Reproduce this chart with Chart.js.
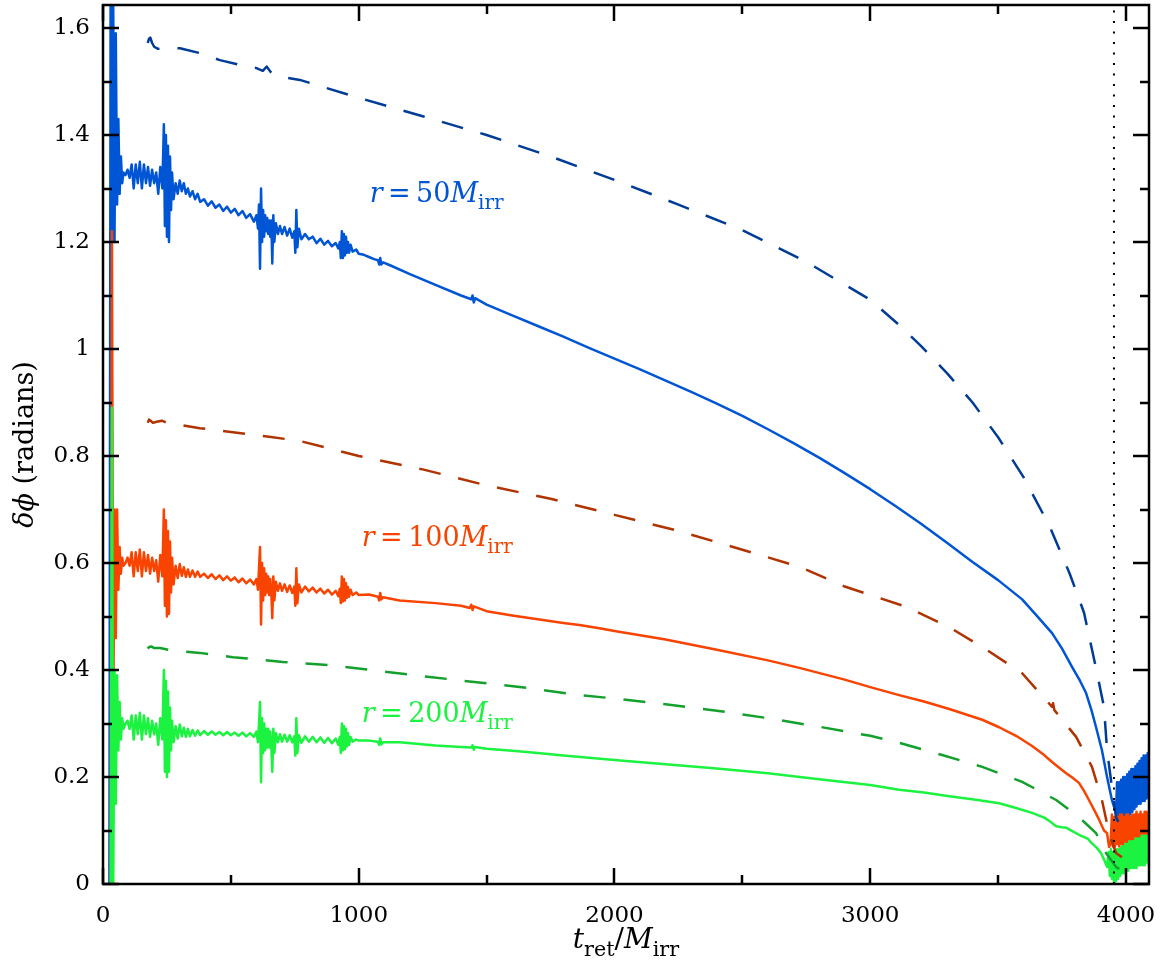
<!DOCTYPE html>
<html><head><meta charset="utf-8">
<script src="https://cdn.jsdelivr.net/npm/chart.js@4.4.1/dist/chart.umd.min.js"></script>
<style>html,body{margin:0;padding:0;background:#fff;}#wrap{width:1170px;height:966px;}</style>
</head><body><div id="wrap"><canvas id="c" width="1170" height="966"></canvas></div>
<script>
// ---------- data ----------
const xTickLabels = [0, 1000, 2000, 3000, 4000];
const yTickLabels = [0, 0.2, 0.4, 0.6, 0.8, 1, 1.2, 1.4, 1.6];
const seriesLabels = ['r = 50M_irr', 'r = 100M_irr', 'r = 200M_irr'];
const mergerTime = 3953;

// r = 50 M_irr, solid
const blueSolid = [[25,0.0],[30,1.75],[35,1.20],[40,1.64],[45,1.20],[50,1.59],[55,1.27],[60,1.43],[65,1.29],[70,1.36],[75,1.31],[80,1.33],
[88,1.325],[96,1.335],[104,1.32],[112,1.345],[120,1.30],[128,1.345],[136,1.31],[144,1.35],[152,1.30],[160,1.345],[168,1.31],[176,1.34],[184,1.305],[192,1.335],[200,1.31],[208,1.33],[216,1.29],[224,1.34],[232,1.30],
[238,1.42],[242,1.23],[246,1.40],[250,1.21],[254,1.38],[258,1.20],[262,1.36],[266,1.26],[270,1.33],[276,1.28],[284,1.31],[292,1.29],[300,1.315],[308,1.295],[316,1.31],[324,1.29],[332,1.30],[340,1.285],[350,1.295],[360,1.28],[370,1.29],[380,1.275],[395,1.28],[410,1.268],[425,1.276],[440,1.264],[455,1.27],[470,1.258],[485,1.266],[500,1.255],[515,1.262],[530,1.25],[545,1.258],[560,1.245],[575,1.252],[590,1.238],[600,1.25],
[606,1.225],[610,1.27],[614,1.15],[618,1.30],[622,1.20],[626,1.26],[630,1.21],[634,1.25],[638,1.22],[642,1.245],[646,1.215],[650,1.24],[654,1.21],[658,1.24],[662,1.16],[666,1.25],[670,1.20],[676,1.235],[684,1.215],[692,1.23],[700,1.215],[710,1.228],[720,1.212],[730,1.225],[740,1.208],[748,1.22],[752,1.18],[756,1.26],[760,1.19],[766,1.225],[776,1.205],[790,1.215],[805,1.205],[820,1.21],[835,1.198],[850,1.206],[865,1.195],[880,1.202],[895,1.192],[910,1.198],[920,1.188],[926,1.20],[930,1.17],[934,1.22],[938,1.17],[942,1.215],[946,1.175],[950,1.21],[954,1.18],[958,1.20],[962,1.18],[968,1.195],[976,1.182],[990,1.186],[1000,1.178],[1020,1.176],[1040,1.172],[1060,1.168],[1075,1.166],[1080,1.158],[1084,1.17],[1088,1.158],[1095,1.162],[1120,1.157],
[1200,1.14],[1300,1.12],[1400,1.10],[1440,1.093],[1445,1.10],[1450,1.087],[1455,1.095],[1500,1.083],[1600,1.063],[1700,1.043],[1800,1.023],[1900,1.002],[2000,0.982],[2100,0.962],[2200,0.941],[2300,0.92],[2400,0.898],[2500,0.875],[2600,0.85],[2700,0.824],[2800,0.797],[2900,0.768],[3000,0.738],[3100,0.706],[3200,0.673],[3300,0.638],[3400,0.602],[3500,0.568],[3594,0.532],[3650,0.502],[3711,0.469],[3750,0.44],[3789,0.406],[3820,0.38],[3844,0.357],[3865,0.325],[3883,0.293],[3906,0.250],[3926,0.200],[3945,0.157],[3961,0.133],
[3965,0.19],[3969,0.10],[3973,0.19],[3977,0.105],[3981,0.195],[3985,0.11],[3989,0.20],[3993,0.115],[3997,0.20],[4001,0.12],[4005,0.205],[4009,0.125],[4013,0.21],[4017,0.13],[4021,0.215],[4025,0.135],[4029,0.215],[4033,0.14],[4037,0.22],[4041,0.145],[4045,0.225],[4049,0.15],[4053,0.23],[4057,0.15],[4061,0.235],[4065,0.155],[4069,0.24],[4073,0.155],[4077,0.24],[4081,0.16],[4085,0.245],[4089,0.16]];

// r = 100 M_irr, solid
const redSolid = [[25,0.0],[30,0.0],[35,1.22],[40,0.30],[45,0.70],[50,0.46],[55,0.70],[60,0.55],[65,0.63],[70,0.58],[75,0.61],[80,0.595],
[88,0.60],[96,0.61],[104,0.595],[112,0.62],[120,0.575],[128,0.62],[136,0.585],[144,0.625],[152,0.575],[160,0.62],[168,0.585],[176,0.615],[184,0.58],[192,0.61],[200,0.585],[208,0.605],[216,0.565],[224,0.615],[232,0.575],
[238,0.70],[242,0.52],[246,0.68],[250,0.50],[254,0.66],[258,0.505],[262,0.64],[266,0.545],[270,0.61],[276,0.56],[284,0.595],[292,0.572],[300,0.598],[308,0.576],[316,0.592],[324,0.574],[332,0.588],[340,0.574],[350,0.586],[360,0.574],[370,0.584],[380,0.574],[395,0.58],[410,0.572],[425,0.579],[440,0.57],[455,0.577],[470,0.568],[485,0.575],[500,0.567],[515,0.573],[530,0.564],[545,0.571],[560,0.562],[575,0.569],[590,0.56],[600,0.57],
[606,0.55],[610,0.59],[614,0.63],[618,0.485],[622,0.60],[626,0.53],[630,0.59],[634,0.54],[638,0.58],[642,0.545],[646,0.575],[650,0.54],[654,0.57],[658,0.545],[662,0.497],[666,0.575],[670,0.53],[676,0.565],[684,0.548],[692,0.562],[700,0.548],[710,0.56],[720,0.546],[730,0.558],[740,0.544],[748,0.556],[752,0.52],[756,0.59],[760,0.525],[766,0.56],[776,0.545],[790,0.556],[805,0.547],[820,0.554],[835,0.545],[850,0.552],[865,0.543],[880,0.55],[895,0.541],[910,0.548],[920,0.538],[926,0.552],[930,0.525],[934,0.575],[938,0.528],[942,0.57],[946,0.53],[950,0.562],[954,0.535],[958,0.555],[962,0.537],[968,0.55],[976,0.54],[990,0.545],[1000,0.54],[1040,0.541],[1075,0.537],[1080,0.53],[1084,0.544],[1088,0.532],[1095,0.536],[1160,0.53],
[1300,0.525],[1400,0.52],[1434,0.516],[1440,0.522],[1445,0.512],[1450,0.519],[1500,0.51],[1600,0.502],[1700,0.495],[1800,0.488],[1863,0.484],[1941,0.478],[2000,0.473],[2200,0.457],[2400,0.438],[2600,0.418],[2723,0.404],[2900,0.382],[3000,0.368],[3113,0.353],[3210,0.341],[3309,0.327],[3438,0.307],[3504,0.293],[3570,0.277],[3633,0.258],[3680,0.241],[3711,0.228],[3740,0.217],[3766,0.207],[3790,0.199],[3816,0.189],[3836,0.174],[3855,0.157],[3875,0.139],[3895,0.120],[3914,0.10],[3926,0.095],[3934,0.069],
[3940,0.075],[3945,0.13],[3949,0.07],[3953,0.125],[3957,0.07],[3961,0.13],[3965,0.075],[3969,0.125],[3973,0.07],[3977,0.13],[3981,0.075],[3985,0.13],[3989,0.07],[3993,0.125],[3997,0.075],[4001,0.13],[4005,0.075],[4009,0.13],[4013,0.075],[4017,0.125],[4021,0.075],[4025,0.13],[4029,0.08],[4033,0.13],[4037,0.075],[4041,0.135],[4045,0.08],[4049,0.13],[4053,0.08],[4057,0.135],[4061,0.08],[4065,0.13],[4069,0.08],[4073,0.135],[4077,0.08],[4081,0.135],[4085,0.08],[4089,0.13]];

// r = 200 M_irr, solid
const greenSolid = [[25,0.0],[30,0.0],[35,0.89],[40,0.0],[45,0.40],[50,0.15],[55,0.39],[60,0.25],[65,0.34],[70,0.27],[75,0.31],[80,0.29],
[88,0.30],[96,0.305],[104,0.29],[112,0.315],[120,0.27],[128,0.315],[136,0.28],[144,0.32],[152,0.27],[160,0.315],[168,0.28],[176,0.31],[184,0.275],[192,0.305],[200,0.28],[208,0.30],[216,0.26],[224,0.31],[232,0.27],
[238,0.40],[242,0.21],[246,0.38],[250,0.20],[254,0.36],[258,0.21],[262,0.33],[266,0.25],[270,0.305],[276,0.265],[284,0.295],[292,0.272],[300,0.298],[308,0.276],[316,0.292],[324,0.275],[332,0.29],[340,0.276],[350,0.288],[360,0.277],[370,0.287],[380,0.278],[395,0.286],[410,0.279],[425,0.285],[440,0.279],[455,0.284],[470,0.278],[485,0.284],[500,0.278],[515,0.283],[530,0.277],[545,0.283],[560,0.276],[575,0.282],[590,0.275],[600,0.285],
[606,0.265],[610,0.30],[614,0.34],[618,0.19],[622,0.31],[626,0.245],[630,0.30],[634,0.25],[638,0.29],[642,0.255],[646,0.29],[650,0.255],[654,0.285],[658,0.26],[662,0.21],[666,0.29],[670,0.245],[676,0.282],[684,0.265],[692,0.28],[700,0.266],[710,0.279],[720,0.266],[730,0.278],[740,0.265],[748,0.276],[752,0.24],[756,0.31],[760,0.245],[766,0.278],[776,0.264],[790,0.276],[805,0.266],[820,0.275],[835,0.265],[850,0.274],[865,0.264],[880,0.273],[895,0.263],[910,0.272],[920,0.26],[926,0.275],[930,0.245],[934,0.30],[938,0.25],[942,0.295],[946,0.252],[950,0.29],[954,0.257],[958,0.282],[962,0.26],[968,0.275],[976,0.266],[990,0.27],[1000,0.268],[1040,0.268],[1075,0.266],[1080,0.26],[1084,0.272],[1088,0.261],[1095,0.265],[1160,0.265],
[1300,0.259],[1400,0.256],[1440,0.255],[1445,0.259],[1450,0.251],[1455,0.256],[1500,0.253],[1600,0.249],[1700,0.245],[1800,0.24],[2000,0.232],[2200,0.224],[2400,0.216],[2600,0.207],[2800,0.196],[3000,0.185],[3113,0.176],[3210,0.171],[3309,0.164],[3420,0.157],[3504,0.151],[3570,0.142],[3633,0.133],[3680,0.124],[3700,0.118],[3727,0.108],[3750,0.106],[3767,0.105],[3790,0.099],[3816,0.092],[3850,0.085],[3865,0.077],[3885,0.068],[3902,0.058],[3915,0.045],[3926,0.032],
[3932,0.06],[3937,0.015],[3941,0.065],[3945,0.01],[3949,0.06],[3953,0.0],[3957,0.06],[3961,0.005],[3965,0.065],[3969,0.01],[3973,0.065],[3977,0.015],[3981,0.07],[3985,0.02],[3989,0.07],[3993,0.02],[3997,0.075],[4001,0.025],[4005,0.075],[4009,0.025],[4013,0.08],[4017,0.03],[4021,0.08],[4025,0.03],[4029,0.08],[4033,0.03],[4037,0.085],[4041,0.03],[4045,0.085],[4049,0.035],[4053,0.085],[4057,0.035],[4061,0.09],[4065,0.035],[4069,0.09],[4073,0.035],[4077,0.09],[4081,0.04],[4085,0.09],[4089,0.035]];

// dashed curves
const blueDashed = [[175,1.572],[180,1.58],[185,1.582],[192,1.572],[200,1.565],[215,1.561],[240,1.563],[301,1.562],[379,1.553],[457,1.540],[535,1.531],[600,1.525],[625,1.52],[640,1.528],[655,1.518],[680,1.51],[770,1.503],[1004,1.469],[1250,1.435],[1500,1.40],[1750,1.36],[2000,1.316],[2250,1.27],[2500,1.222],[2750,1.163],[3000,1.092],[3113,1.045],[3200,1.005],[3300,0.955],[3400,0.90],[3500,0.835],[3600,0.76],[3700,0.67],[3780,0.58],[3836,0.507],[3887,0.394],[3914,0.331],[3926,0.25],[3945,0.181],[3961,0.125],[3980,0.107]];
const redDashed = [[175,0.862],[180,0.868],[186,0.866],[195,0.862],[210,0.864],[230,0.866],[250,0.862],[280,0.86],[379,0.852],[500,0.845],[650,0.836],[770,0.828],[1000,0.80],[1250,0.775],[1500,0.745],[1750,0.72],[2000,0.69],[2250,0.66],[2477,0.628],[2723,0.593],[2900,0.556],[3141,0.518],[3309,0.480],[3438,0.443],[3594,0.394],[3711,0.331],[3715,0.338],[3720,0.325],[3805,0.275],[3867,0.219],[3906,0.157],[3934,0.095],[3961,0.058],[3984,0.05]];
const greenDashed = [[175,0.44],[180,0.443],[190,0.444],[200,0.441],[223,0.441],[262,0.437],[379,0.432],[508,0.424],[703,0.415],[887,0.409],[1277,0.387],[1668,0.366],[1863,0.353],[1973,0.348],[2200,0.336],[2400,0.324],[2600,0.31],[2800,0.294],[3000,0.277],[3113,0.264],[3281,0.241],[3438,0.219],[3594,0.191],[3727,0.157],[3816,0.125],[3883,0.095],[3922,0.058],[3961,0.032],[3980,0.026]];

// label anchor positions (data coordinates)
const labelAnchors = [[1043, 1.275], [1012, 0.632], [1012, 0.303]];

// ---------- styles ----------
const C = {
  blue: '#0055d4', blueD: '#003c96',
  red: '#f84400', redD: '#b03300',
  green: '#1cf240', greenD: '#14a02c'
};
const SERIF = '"DejaVu Serif", serif';
const Y_MAX = 1.643, X_MAX = 4090;
Chart.defaults.font.family = SERIF;
Chart.defaults.font.size = 22;
Chart.defaults.color = '#000';

const pts = arr => arr.map(([x, y]) => ({x, y}));
const dash = [22, 18];

function drawRich(ctx, parts, x, y, size, color, align) {
  const seg = parts.map(([t, s]) => {
    const fs = s === 's' ? size * 0.74 : size;
    const f = (s === 'i' ? 'italic ' : '') + fs + 'px ' + SERIF;
    ctx.font = f;
    return {t, f, w: ctx.measureText(t).width, dy: s === 's' ? size * 0.28 : 0};
  });
  const total = seg.reduce((a, b) => a + b.w, 0);
  let cx = align === 'center' ? x - total / 2 : x;
  ctx.fillStyle = color;
  ctx.textAlign = 'left';
  ctx.textBaseline = 'alphabetic';
  for (const s of seg) { ctx.font = s.f; ctx.fillText(s.t, cx, y + s.dy); cx += s.w; }
  return total;
}

const framePlugin = {
  id: 'frame',
  afterDraw(chart) {
    const {ctx, chartArea: a, scales: {x, y}} = chart;
    ctx.save();
    ctx.strokeStyle = '#000';
    ctx.lineWidth = 2.5;
    ctx.lineCap = 'butt';
    const xs = [];
    xTickLabels.forEach((v, i) => { xs.push([v, 16]); if (i < xTickLabels.length - 1) xs.push([(v + xTickLabels[i + 1]) / 2, 9]); });
    ctx.beginPath();
    for (const [v, L] of xs) {
      const px = Math.round(x.getPixelForValue(v));
      ctx.moveTo(px, a.bottom); ctx.lineTo(px, a.bottom - L);
      ctx.moveTo(px, a.top); ctx.lineTo(px, a.top + L);
    }
    const ys = [];
    yTickLabels.forEach((v, i) => { ys.push([v, 16]); if (i < yTickLabels.length - 1) ys.push([(v + yTickLabels[i + 1]) / 2, 9]); });
    for (const [v, L] of ys) {
      const py = Math.round(y.getPixelForValue(v));
      ctx.moveTo(a.left, py); ctx.lineTo(a.left + L, py);
      ctx.moveTo(a.right, py); ctx.lineTo(a.right - L, py);
    }
    ctx.stroke();
    ctx.strokeRect(a.left, a.top, a.right - a.left, a.bottom - a.top);

    const labColors = [C.blue, C.red, C.green];
    seriesLabels.forEach((lab, i) => {
      const m = lab.match(/^r = (\d+)M_irr$/);
      const px = x.getPixelForValue(labelAnchors[i][0]);
      const py = y.getPixelForValue(labelAnchors[i][1]);
      drawRich(ctx, [['r', 'i'], ['\u2009=\u2009', 'n'], [m[1], 'n'], ['M', 'i'], ['irr', 's']], px, py, 27, labColors[i], 'left');
    });

    const cx = (a.left + a.right) / 2;
    drawRich(ctx, [['t', 'i'], ['ret', 's'], ['/', 'n'], ['M', 'i'], ['irr', 's']], cx, 948, 28, '#000', 'center');

    ctx.save();
    ctx.translate(33, (a.top + a.bottom) / 2);
    ctx.rotate(-Math.PI / 2);
    drawRich(ctx, [['\u03b4\u03d5', 'i'], [' (radians)', 'n']], 0, 0, 27, '#000', 'center');
    ctx.restore();
    ctx.restore();
  }
};

const ds = (label, data, color, dashed, width) => ({
  label, data: pts(data), borderColor: color, borderWidth: width || 2.5,
  borderDash: dashed || [], pointRadius: 0, tension: 0, fill: false
});

new Chart(document.getElementById('c'), {
  type: 'line',
  data: {
    datasets: [
      ds('merger', [[mergerTime, 0], [mergerTime, Y_MAX]], '#000', [2, 8.5], 2),
      ds(seriesLabels[2] + ' (dashed)', greenDashed, C.greenD, dash),
      ds(seriesLabels[1] + ' (dashed)', redDashed, C.redD, dash),
      ds(seriesLabels[0] + ' (dashed)', blueDashed, C.blueD, dash),
      ds(seriesLabels[2], greenSolid, C.green),
      ds(seriesLabels[1], redSolid, C.red),
      ds(seriesLabels[0], blueSolid, C.blue)
    ]
  },
  options: {
    responsive: false, animation: false, devicePixelRatio: 1,
    layout: {padding: {left: 0, top: 5, right: 21, bottom: 0}},
    plugins: {legend: {display: false}, tooltip: {enabled: false}},
    elements: {line: {borderCapStyle: 'butt', borderJoinStyle: 'round'}},
    scales: {
      x: {
        type: 'linear', min: 0, max: X_MAX,
        grid: {display: false, drawTicks: false}, border: {display: false},
        ticks: {
          autoSkip: false, maxRotation: 0, padding: 18, color: '#000',
          font: {family: SERIF, size: 23},
          callback: v => String(v)
        },
        afterBuildTicks: s => { s.ticks = xTickLabels.map(v => ({value: v})); },
        afterFit: s => { s.height = 82; s.paddingLeft = 0; s.paddingRight = 0; }
      },
      y: {
        type: 'linear', min: 0, max: Y_MAX,
        grid: {display: false, drawTicks: false}, border: {display: false},
        ticks: {
          autoSkip: false, padding: 13, color: '#000',
          font: {family: SERIF, size: 23},
          callback: v => String(v)
        },
        afterBuildTicks: s => { s.ticks = yTickLabels.map(v => ({value: v})); },
        afterFit: s => { s.width = 103; s.paddingTop = 0; s.paddingBottom = 0; }
      }
    }
  },
  plugins: [framePlugin]
});
</script>
</body></html>
